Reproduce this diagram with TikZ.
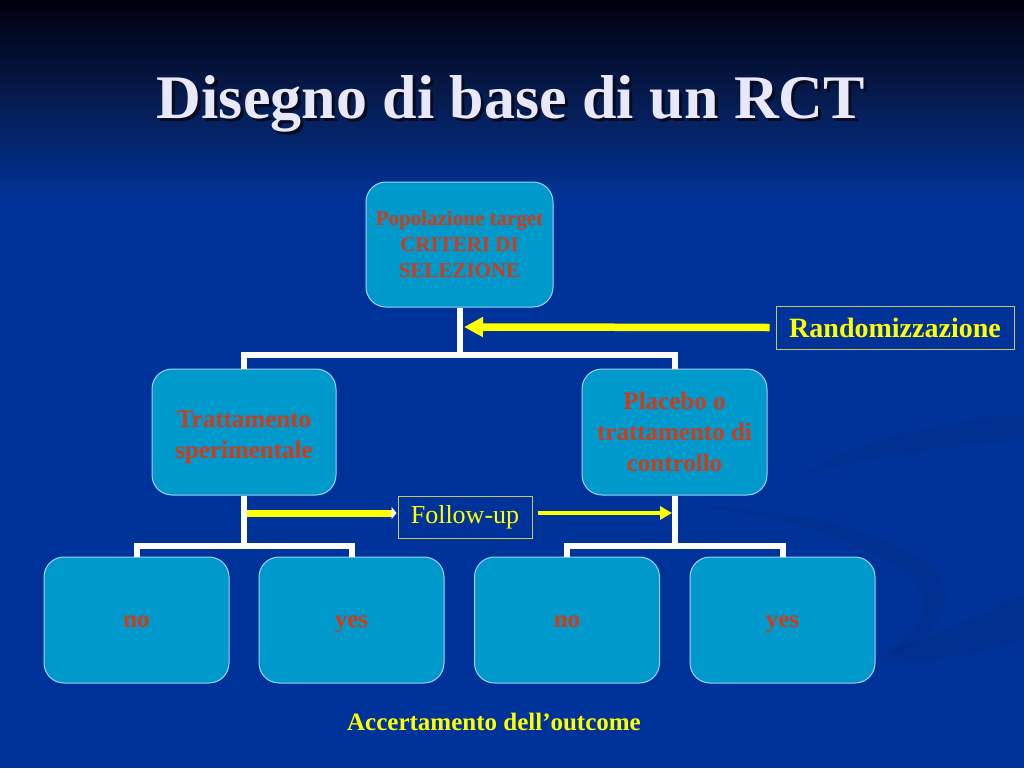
\documentclass[tikz,border=0pt]{standalone}
\usepackage{fontspec}
\setmainfont{Liberation Serif}
\usetikzlibrary{arrows.meta}
\definecolor{bgblue}{RGB}{0,51,153}
\definecolor{bgtop}{RGB}{0,0,14}
\definecolor{bgmid}{RGB}{6,28,80}
\definecolor{boxfill}{RGB}{0,153,204}
\definecolor{boxedge}{RGB}{160,210,245}
\definecolor{txtred}{RGB}{206,60,25}
\definecolor{ylw}{RGB}{255,255,0}
\definecolor{lbledge}{RGB}{200,200,90}
\definecolor{titlecol}{RGB}{232,232,250}
\definecolor{shadowcol}{RGB}{8,10,30}
\begin{document}
\begin{tikzpicture}[x=1pt,y=-1pt,
  box/.style={rectangle, rounded corners=20pt, fill=boxfill, draw=boxedge, line width=1pt,
    minimum width=185pt, minimum height=126pt, inner sep=0pt, text=txtred, align=center,
    font=\bfseries\fontsize{25}{31}\selectfont},
  conn/.style={draw=white, line width=6pt},
  yarrow/.style={draw=ylw, line width=7.5pt},
  lbl/.style={rectangle, draw=lbledge, line width=1pt, text=ylw, inner sep=0pt},
  swoosh/.style={fill=black, opacity=0.06}
]
\useasboundingbox (0,0) rectangle (1024,768);
% background
\fill[bgblue] (0,0) rectangle (1024,768);
\shade[top color=bgtop, bottom color=bgblue, middle color=bgmid] (0,0) rectangle (1024,200);
% swooshes
\fill[swoosh] (802,476) .. controls (850,440) and (950,420) .. (1024,414) -- (1024,440) .. controls (950,445) and (860,458) .. (802,476) -- cycle;
\fill[swoosh] (690,505) .. controls (900,515) and (1020,585) .. (895,656) -- (885,650) .. controls (985,595) and (880,530) .. (690,505) -- cycle;
\fill[swoosh] (860,662) .. controls (920,642) and (980,615) .. (1024,594) -- (1024,640) .. controls (970,656) and (910,666) .. (860,662) -- cycle;
% title with shadow
\node[anchor=base, text=titlecol, font=\bfseries\fontsize{62}{70}\selectfont] (title) at (511,118)
  {\rlap{\kern3pt\raisebox{-3pt}{\textcolor{shadowcol}{Disegno di base di un RCT}}}Disegno di base di un RCT};
% boxes
\node[box, minimum width=187pt, minimum height=125pt, font=\bfseries\fontsize{21}{26}\selectfont] (top) at (459.5,244.5) {Popolazione target\\CRITERI DI\\SELEZIONE};
\node[box, minimum width=184pt] (lmid) at (244,432) {\rule{0pt}{27pt}Trattamento\\sperimentale};
\node[box] (rmid) at (674.5,432) {Placebo o\\trattamento di\\controllo};
\node[box] (b1) at (136.5,620) {\rule[-6pt]{0pt}{26pt}no};
\node[box] (b2) at (351.5,620) {\rule[-6pt]{0pt}{26pt}yes};
\node[box] (b3) at (567,620) {\rule[-6pt]{0pt}{26pt}no};
\node[box] (b4) at (782.5,620) {\rule[-6pt]{0pt}{26pt}yes};
% connectors
\coordinate (j1) at (459.5,355);
\coordinate (j2) at (244,546);
\coordinate (j3) at (674.5,546);
\draw[conn] (top.south) -- (j1);
\draw[conn] (lmid.north) |- (j1) -| (rmid.north);
\draw[conn] (lmid.south) -- (j2);
\draw[conn] (b1.north) |- (j2) -| (b2.north);
\draw[conn] (rmid.south) -- (j3);
\draw[conn] (b3.north) |- (j3) -| (b4.north);
% labels
\node[lbl, minimum width=238pt, minimum height=43pt, font=\bfseries\fontsize{28}{32}\selectfont] (rand) at (895,327.5) {Randomizzazione};
\node[lbl, minimum width=134pt, minimum height=42pt, font=\fontsize{26}{30}\selectfont] (follow) at (465,517) {Follow-up};
\node[text=ylw, font=\bfseries\fontsize{25}{30}\selectfont] (outcome) at (494,722) {Accertamento dell’outcome};
% yellow arrows
\coordinate (rtip) at (464,327);
\coordinate (fl) at (247,513);
\coordinate (fr) at (672,513);
\draw[yarrow, -{Triangle[length=19pt,width=19pt]}] ([xshift=-6pt]rand.west) -- (rtip);
\draw[yarrow, line width=7pt, -{Triangle[length=5pt,width=12pt,color=white]}] (fl) -- ([xshift=-1pt]fl -| follow.west);
\draw[yarrow, line width=4.5pt, -{Triangle[length=12pt,width=13pt]}] ([xshift=5pt]follow.east |- fr) -- (fr);
\end{tikzpicture}
\end{document}
